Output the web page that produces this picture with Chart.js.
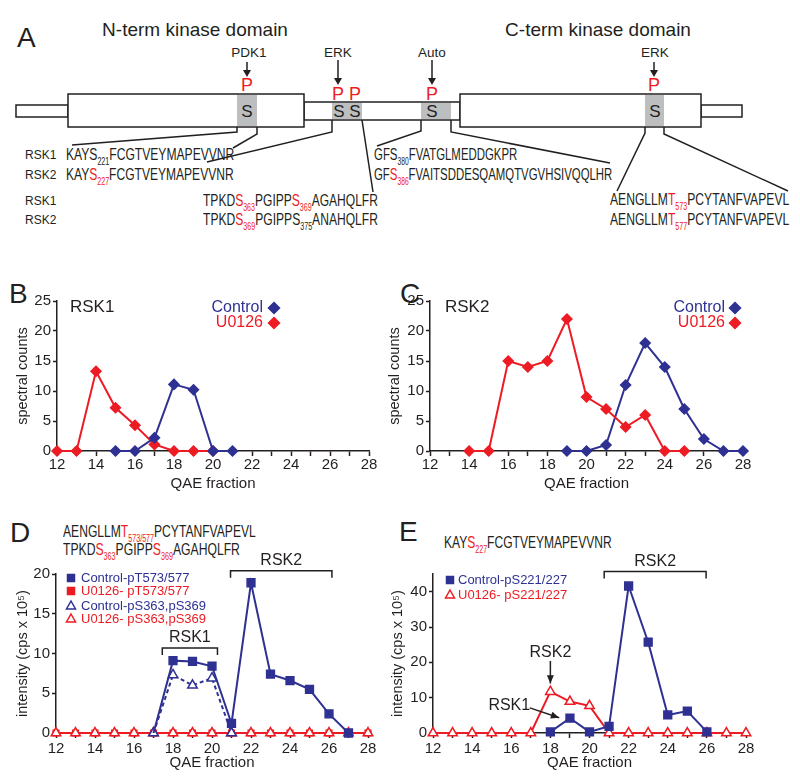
<!DOCTYPE html>
<html>
<head>
<meta charset="utf-8">
<script src="https://cdn.jsdelivr.net/npm/chart.js@4.4.1/dist/chart.umd.min.js"></script>
<style>
body { margin: 0; background: #fff; }
#fig { position: relative; width: 800px; height: 781px; overflow: hidden; font-family: 'Liberation Sans', Arial, sans-serif; color: #231f20; }
#fig canvas { position: absolute; }
.seq { position: absolute; white-space: nowrap; font-size: 17px; line-height: 18px; transform-origin: 0 50%; }
.seq sub { font-size: 10px; vertical-align: baseline; position: relative; top: 5px; }
.r { color: #ed1c24; }
.lab { position: absolute; font-size: 12px; line-height: 14px; }
.letter { position: absolute; font-size: 28px; line-height: 28px; }
</style>
</head>
<body>
<div id="fig">
  <svg width="800" height="240" style="position:absolute;left:0;top:0" font-family="Liberation Sans, Arial, sans-serif" fill="#231f20">
    <text x="195" y="36" font-size="19" text-anchor="middle">N-term kinase domain</text>
    <text x="598" y="36" font-size="19" text-anchor="middle">C-term kinase domain</text>

    <g stroke="#231f20" stroke-width="1.5" fill="#fff">
      <rect x="16" y="105" width="52" height="12"/>
      <rect x="701" y="105" width="41" height="12"/>
      <rect x="304" y="102" width="156" height="18"/>
      <rect x="68" y="94" width="236" height="33"/>
      <rect x="460" y="94" width="241" height="33"/>
    </g>
    <g fill="#bcbec0">
      <rect x="237" y="95" width="20" height="31"/>
      <rect x="645" y="95" width="19" height="31"/>
      <rect x="332" y="103" width="30" height="16"/>
      <rect x="421" y="103" width="30" height="16"/>
    </g>
    <g font-size="17" text-anchor="middle">
      <text x="247" y="117">S</text>
      <text x="339" y="117">S</text>
      <text x="355" y="117">S</text>
      <text x="432" y="117">S</text>
      <text x="655" y="117">S</text>
    </g>
    <g font-size="18" text-anchor="middle" fill="#ed1c24">
      <text x="247" y="91">P</text>
      <text x="338" y="100">P</text>
      <text x="355" y="100">P</text>
      <text x="432" y="100">P</text>
      <text x="654" y="91">P</text>
    </g>
    <g font-size="13.5" text-anchor="middle">
      <text x="249" y="57">PDK1</text>
      <text x="338" y="57">ERK</text>
      <text x="432" y="57">Auto</text>
      <text x="655" y="57">ERK</text>
    </g>
    <g stroke="#231f20" stroke-width="1.5" fill="none">
      <line x1="247" y1="62" x2="247" y2="71"/>
      <line x1="338" y1="60" x2="338" y2="79"/>
      <line x1="432" y1="60" x2="432" y2="79"/>
      <line x1="654" y1="62" x2="654" y2="71"/>
      <polyline points="237,127 237,132 72,145"/>
      <polyline points="257,127 257,134 233,148"/>
      <polyline points="332,120 332,132 207,162"/>
      <polyline points="362,120 373,192"/>
      <polyline points="421,120 421,131 377,146"/>
      <polyline points="451,120 451,132 610,163"/>
      <polyline points="645,127 645,133 617,191"/>
      <polyline points="664,127 664,134 788,191"/>
    </g>
    <g fill="#231f20">
      <polygon points="243,70 251,70 247,77"/>
      <polygon points="334,78 342,78 338,85"/>
      <polygon points="428,78 436,78 432,85"/>
      <polygon points="650,70 658,70 654,77"/>
    </g>
  </svg>

  <div class="letter" style="left:17px;top:24px">A</div>
  <div class="letter" style="left:9px;top:280px">B</div>
  <div class="letter" style="left:400px;top:280px">C</div>
  <div class="letter" style="left:10px;top:519px">D</div>
  <div class="letter" style="left:399px;top:518px">E</div>

  <div class="lab" style="left:25px;top:148px">RSK1</div>
  <div class="lab" style="left:25px;top:168px">RSK2</div>
  <div class="lab" style="left:25px;top:194px">RSK1</div>
  <div class="lab" style="left:25px;top:213px">RSK2</div>

  <div class="seq" data-w="168" style="left:66px;top:146px">KAYS<sub>221</sub>FCGTVEYMAPEVVNR</div>
  <div class="seq" data-w="168" style="left:66px;top:166px">KAY<span class="r">S</span><sub class="r">227</sub>FCGTVEYMAPEVVNR</div>
  <div class="seq" data-w="175" style="left:203px;top:192px">TPKD<span class="r">S</span><sub class="r">363</sub>PGIPP<span class="r">S</span><sub class="r">369</sub>AGAHQLFR</div>
  <div class="seq" data-w="175" style="left:203px;top:211px">TPKD<span class="r">S</span><sub class="r">369</sub>PGIPPS<sub>375</sub>ANAHQLFR</div>
  <div class="seq" data-w="143" style="left:374px;top:146px">GFS<sub>380</sub>FVATGLMEDDGKPR</div>
  <div class="seq" data-w="238" style="left:374px;top:166px">GF<span class="r">S</span><sub class="r">386</sub>FVAITSDDESQAMQTVGVHSIVQQLHR</div>
  <div class="seq" data-w="179" style="left:610px;top:191px">AENGLLM<span class="r">T</span><sub class="r">573</sub>PCYTANFVAPEVL</div>
  <div class="seq" data-w="179" style="left:610px;top:211px">AENGLLM<span class="r">T</span><sub class="r">577</sub>PCYTANFVAPEVL</div>

  <div class="seq" data-w="193" style="left:63px;top:523px">AENGLLM<span class="r">T</span><sub class="r">573/577</sub>PCYTANFVAPEVL</div>
  <div class="seq" data-w="177" style="left:63px;top:541px">TPKD<span class="r">S</span><sub class="r">363</sub>PGIPP<span class="r">S</span><sub class="r">369</sub>AGAHQLFR</div>
  <div class="seq" data-w="168" style="left:444px;top:534px">KAY<span class="r">S</span><sub class="r">227</sub>FCGTVEYMAPEVVNR</div>

  <canvas id="chartB" width="390" height="205" style="left:0;top:290px"></canvas>
  <canvas id="chartC" width="412" height="205" style="left:388px;top:290px"></canvas>
  <canvas id="chartD" width="390" height="236" style="left:0;top:545px"></canvas>
  <canvas id="chartE" width="412" height="236" style="left:388px;top:545px"></canvas>
</div>

<script>
// ---- data ----
// B: RSK1 spectral counts
const bControlX = [15, 16, 17, 18, 19, 20, 21];
const bControlY = [0, 0, 2.2, 11.1, 10.2, 0, 0];
const bU0126X = [12, 13, 14, 15, 16, 17, 18, 19, 20];
const bU0126Y = [0, 0, 13.3, 7.2, 4.3, 1.1, 0, 0, 0];

// C: RSK2 spectral counts
const cControlX = [19, 20, 21, 22, 23, 24, 25, 26, 27, 28];
const cControlY = [0, 0, 1, 11, 18, 14, 7, 2, 0, 0];
const cU0126X = [14, 15, 16, 17, 18, 19, 20, 21, 22, 23, 24, 25];
const cU0126Y = [0, 0, 15, 14, 15, 22, 9, 7, 4, 6, 0, 0];

// D: intensity, pT573/577 and pS363,pS369
const allFractions = [12, 13, 14, 15, 16, 17, 18, 19, 20, 21, 22, 23, 24, 25, 26, 27, 28];
const dCtrlTX = [17, 18, 19, 20, 21, 22, 23, 24, 25, 26, 27];
const dCtrlTY = [0, 9.1, 9.0, 8.4, 1.2, 18.9, 7.4, 6.6, 5.5, 2.4, 0];
const dCtrlSX = [17, 18, 19, 20, 21];
const dCtrlSY = [0, 7.3, 6.0, 6.9, 0];
const dU0126TY = [0, 0, 0, 0, 0, 0, 0, 0, 0, 0, 0, 0, 0, 0, 0, 0, 0];
const dU0126SY = [0, 0, 0, 0, 0, 0, 0, 0, 0, 0, 0, 0, 0, 0, 0, 0, 0];

// E: intensity, pS221/227
const eCtrlX = [18, 19, 20, 21, 22, 23, 24, 25, 26];
const eCtrlY = [0.3, 4.2, 0.3, 1.9, 41.6, 25.7, 5.1, 6.2, 0.3];
const eU0126Y = [0, 0, 0, 0, 0, 0, 11.7, 8.9, 7.7, 0, 0, 0, 0, 0, 0, 0, 0];

const blue = '#2e3192';
const red = '#ed1c24';
const ink = '#231f20';
const family = 'Liberation Sans, Arial, sans-serif';

// squeeze the peptide sequences to their width in the figure
document.querySelectorAll('.seq').forEach(el => {
  el.style.transform = 'scaleX(' + (el.dataset.w / el.offsetWidth) + ')';
});

Chart.defaults.font.family = family;
Chart.defaults.color = ink;

function series(xs, ys, color, style, extra) {
  return Object.assign({
    data: xs.map((x, i) => ({ x: x, y: ys[i] })),
    borderColor: color,
    backgroundColor: color,
    pointBackgroundColor: color,
    pointBorderColor: color,
    borderWidth: 2,
    pointBorderWidth: 1.5,
    pointStyle: style,
    pointRadius: 5,
    pointHoverRadius: 5,
    tension: 0,
    clip: false
  }, extra || {});
}

function axes(o) {
  return {
    x: {
      type: 'linear', min: 12, max: 28,
      afterFit: s => { s.height = o.xh; },
      border: { color: ink, width: 1.5 },
      grid: { drawOnChartArea: false, color: ink, tickLength: 5, tickWidth: 1.5 },
      ticks: {
        stepSize: 1, autoSkip: false, maxRotation: 0, maxTicksLimit: 20,
        color: ink, font: { size: 15 }, padding: o.xpad,
        callback: v => (v % 2 === 0 ? String(v) : '')
      },
      title: { display: true, text: 'QAE fraction', color: ink, font: { size: 15 }, padding: { top: 0, bottom: o.xtb } }
    },
    y: {
      min: 0, max: o.ymax,
      afterFit: s => { s.width = o.yw; },
      afterBuildTicks: s => { s.ticks = s.ticks.filter(t => t.value % o.ystep === 0); },
      border: { color: ink, width: 1.5 },
      grid: { drawOnChartArea: false, color: ink, tickLength: 4, tickWidth: 1.5 },
      ticks: { stepSize: o.ystep, color: ink, font: { size: 15 }, padding: 2 },
      title: { display: true, text: o.ytitle, color: ink, font: { size: 14.5 }, padding: { top: o.ytp, bottom: 0 } }
    }
  };
}

function mark(ctx, style, x, y, r, fill, stroke) {
  ctx.beginPath();
  if (style === 'rect') {
    ctx.rect(x - r, y - r, 2 * r, 2 * r);
  } else if (style === 'rectRot') {
    ctx.moveTo(x, y - r); ctx.lineTo(x + r, y); ctx.lineTo(x, y + r); ctx.lineTo(x - r, y); ctx.closePath();
  } else {
    ctx.moveTo(x, y - r); ctx.lineTo(x + r * 0.9, y + r * 0.6); ctx.lineTo(x - r * 0.9, y + r * 0.6); ctx.closePath();
  }
  ctx.fillStyle = fill; ctx.fill();
  ctx.strokeStyle = stroke; ctx.lineWidth = 1.5; ctx.stroke();
}

function arrowHead(ctx, x1, y1, x2, y2, size) {
  const a = Math.atan2(y2 - y1, x2 - x1);
  ctx.beginPath();
  ctx.moveTo(x2, y2);
  ctx.lineTo(x2 - size * Math.cos(a - 0.4), y2 - size * Math.sin(a - 0.4));
  ctx.lineTo(x2 - size * Math.cos(a + 0.4), y2 - size * Math.sin(a + 0.4));
  ctx.closePath();
  ctx.fill();
}

// inset legends, labels, brackets and arrows
const annotate = {
  id: 'annotate',
  afterDatasetsDraw(chart, args, opts) {
    const ctx = chart.ctx, a = chart.chartArea;
    const xs = chart.scales.x, ys = chart.scales.y;
    ctx.save();
    ctx.textBaseline = 'middle';
    (opts.texts || []).forEach(t => {
      ctx.font = t.size + 'px ' + family;
      ctx.fillStyle = t.color || ink;
      ctx.textAlign = t.align || 'left';
      ctx.fillText(t.text, a.left + t.dx, a.top + t.dy);
    });
    (opts.legend || []).forEach(l => {
      ctx.font = l.size + 'px ' + family;
      ctx.fillStyle = l.color;
      ctx.textAlign = l.align || 'left';
      ctx.fillText(l.text, a.left + l.tx, a.top + l.dy);
      mark(ctx, l.style, a.left + l.mx, a.top + l.dy, l.r, l.open ? '#fff' : l.color, l.color);
    });
    ctx.strokeStyle = ink; ctx.fillStyle = ink; ctx.lineWidth = 1.5;
    (opts.brackets || []).forEach(b => {
      const x1 = xs.getPixelForValue(b.from), x2 = xs.getPixelForValue(b.to), y = ys.getPixelForValue(b.y);
      ctx.beginPath();
      ctx.moveTo(x1, y + 7); ctx.lineTo(x1, y); ctx.lineTo(x2, y); ctx.lineTo(x2, y + 7);
      ctx.stroke();
      ctx.font = '16px ' + family; ctx.textAlign = 'center';
      ctx.fillText(b.label, (x1 + x2) / 2, y - 10);
    });
    (opts.arrows || []).forEach(r => {
      ctx.font = '16px ' + family; ctx.textAlign = 'center';
      ctx.fillText(r.label, xs.getPixelForValue(r.lx), ys.getPixelForValue(r.ly));
      const x1 = xs.getPixelForValue(r.x1), y1 = ys.getPixelForValue(r.y1);
      const x2 = xs.getPixelForValue(r.x2), y2 = ys.getPixelForValue(r.y2);
      ctx.beginPath(); ctx.moveTo(x1, y1); ctx.lineTo(x2, y2); ctx.stroke();
      arrowHead(ctx, x1, y1, x2, y2, 9);
    });
    ctx.restore();
  }
};

const common = { responsive: false, animation: false, devicePixelRatio: 1, events: [] };

// B
new Chart(document.getElementById('chartB'), {
  type: 'line',
  data: { datasets: [
    series(bControlX, bControlY, blue, 'rectRot'),
    series(bU0126X, bU0126Y, red, 'rectRot')
  ] },
  options: Object.assign({}, common, {
    layout: { padding: { top: 10, right: 21, bottom: 0, left: 0 } },
    scales: axes({ xh: 44, xpad: 0, xtb: 2, ymax: 25, ystep: 5, yw: 57, ytitle: 'spectral counts', ytp: 14 }),
    plugins: {
      legend: { display: false }, tooltip: { enabled: false },
      annotate: {
        texts: [{ text: 'RSK1', size: 17, dx: 13, dy: 6 }],
        legend: [
          { text: 'Control', size: 16, color: blue, align: 'right', tx: 206, mx: 217, dy: 7, style: 'rectRot', r: 5.5 },
          { text: 'U0126', size: 16, color: red, align: 'right', tx: 206, mx: 217, dy: 22, style: 'rectRot', r: 5.5 }
        ]
      }
    }
  }),
  plugins: [annotate]
});

// C
new Chart(document.getElementById('chartC'), {
  type: 'line',
  data: { datasets: [
    series(cU0126X, cU0126Y, red, 'rectRot'),
    series(cControlX, cControlY, blue, 'rectRot')
  ] },
  options: Object.assign({}, common, {
    layout: { padding: { top: 10, right: 57, bottom: 0, left: 0 } },
    scales: axes({ xh: 44, xpad: 0, xtb: 2, ymax: 25, ystep: 5, yw: 42, ytitle: 'spectral counts', ytp: -2 }),
    plugins: {
      legend: { display: false }, tooltip: { enabled: false },
      annotate: {
        texts: [{ text: 'RSK2', size: 17, dx: 15, dy: 6 }],
        legend: [
          { text: 'Control', size: 16, color: blue, align: 'right', tx: 295, mx: 305, dy: 7, style: 'rectRot', r: 5.5 },
          { text: 'U0126', size: 16, color: red, align: 'right', tx: 295, mx: 305, dy: 22, style: 'rectRot', r: 5.5 }
        ]
      }
    }
  }),
  plugins: [annotate]
});

// D
new Chart(document.getElementById('chartD'), {
  type: 'line',
  data: { datasets: [
    series(dCtrlTX, dCtrlTY, blue, 'rect', { pointRadius: dCtrlTX.map((x, i) => (i === 0 ? 0 : 5.5)) }),
    series(dCtrlSX, dCtrlSY, blue, 'triangle', { borderDash: [4, 3], pointBackgroundColor: '#fff', pointRadius: 5.5 }),
    series(allFractions, dU0126SY, red, 'triangle', { pointBackgroundColor: '#fff', pointRadius: 5.5 }),
    series(allFractions, dU0126TY, red, 'rect', { pointRadius: 4 })
  ] },
  options: Object.assign({}, common, {
    layout: { padding: { top: 29, right: 22, bottom: 0, left: 0 } },
    scales: axes({ xh: 48, xpad: 2, xtb: 9, ymax: 20, ystep: 5, yw: 56, ytitle: 'intensity (cps x 10\u2075)', ytp: 14 }),
    plugins: {
      legend: { display: false }, tooltip: { enabled: false },
      annotate: {
        legend: [
          { text: 'Control-pT573/577', size: 13, color: blue, tx: 25, mx: 15, dy: 4, style: 'rect', r: 3.5 },
          { text: 'U0126- pT573/577', size: 13, color: red, tx: 25, mx: 15, dy: 17, style: 'rect', r: 3.5 },
          { text: 'Control-pS363,pS369', size: 13, color: blue, tx: 25, mx: 15, dy: 32, style: 'triangle', r: 5, open: true },
          { text: 'U0126- pS363,pS369', size: 13, color: red, tx: 25, mx: 15, dy: 45, style: 'triangle', r: 5, open: true }
        ],
        brackets: [
          { from: 17.45, to: 20.28, y: 10.7, label: 'RSK1' },
          { from: 20.95, to: 26.15, y: 20.4, label: 'RSK2' }
        ]
      }
    }
  }),
  plugins: [annotate]
});

// E
new Chart(document.getElementById('chartE'), {
  type: 'line',
  data: { datasets: [
    series(eCtrlX, eCtrlY, blue, 'rect', { pointRadius: 5.5 }),
    series(allFractions, eU0126Y, red, 'triangle', { pointBackgroundColor: '#fff', pointRadius: 5.5 })
  ] },
  options: Object.assign({}, common, {
    layout: { padding: { top: 29, right: 54, bottom: 0, left: 0 } },
    scales: axes({ xh: 48, xpad: 2, xtb: 9, ymax: 45, ystep: 10, yw: 45, ytitle: 'intensity (cps x 10\u2075)', ytp: 1 }),
    plugins: {
      legend: { display: false }, tooltip: { enabled: false },
      annotate: {
        legend: [
          { text: 'Control-pS221/227', size: 13, color: blue, tx: 25, mx: 17, dy: 6, style: 'rect', r: 3.5 },
          { text: 'U0126- pS221/227', size: 13, color: red, tx: 25, mx: 17, dy: 21, style: 'triangle', r: 5, open: true }
        ],
        brackets: [
          { from: 20.75, to: 25.96, y: 45.7, label: 'RSK2' }
        ],
        arrows: [
          { label: 'RSK2', lx: 18, ly: 22.7, x1: 18, y1: 20.4, x2: 18, y2: 14.0 },
          { label: 'RSK1', lx: 15.9, ly: 7.7, x1: 16.95, y1: 7.1, x2: 18.45, y2: 4.3 }
        ]
      }
    }
  }),
  plugins: [annotate]
});
</script>
</body>
</html>
